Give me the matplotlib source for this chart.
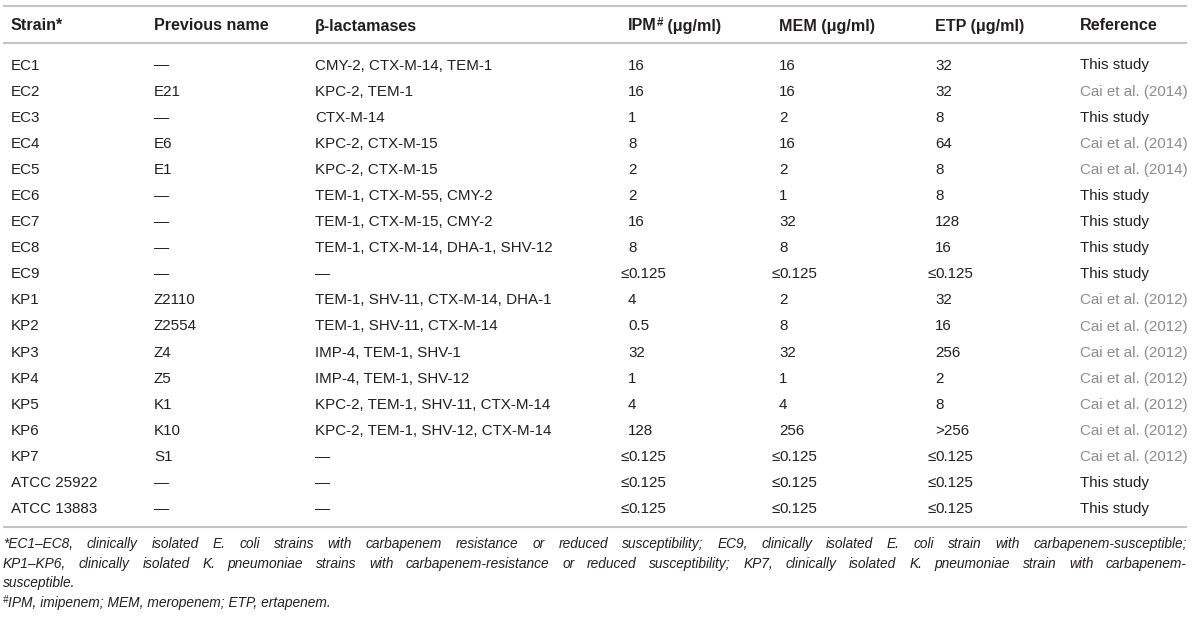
import matplotlib
matplotlib.use("Agg")
import matplotlib.pyplot as plt

plt.rcParams['font.family'] = ['Liberation Sans', 'DejaVu Sans']

# table contents
strains = ["EC1", "EC2", "EC3", "EC4", "EC5", "EC6", "EC7", "EC8", "EC9",
           "KP1", "KP2", "KP3", "KP4", "KP5", "KP6", "KP7",
           "ATCC 25922", "ATCC 13883"]
previous_names = ["—", "E21", "—", "E6", "E1", "—", "—", "—", "—",
                  "Z2110", "Z2554", "Z4", "Z5", "K1", "K10", "S1", "—", "—"]
lactamases = ["CMY-2, CTX-M-14, TEM-1", "KPC-2, TEM-1", "CTX-M-14",
              "KPC-2, CTX-M-15", "KPC-2, CTX-M-15", "TEM-1, CTX-M-55, CMY-2",
              "TEM-1, CTX-M-15, CMY-2", "TEM-1, CTX-M-14, DHA-1, SHV-12", "—",
              "TEM-1, SHV-11, CTX-M-14, DHA-1", "TEM-1, SHV-11, CTX-M-14",
              "IMP-4, TEM-1, SHV-1", "IMP-4, TEM-1, SHV-12",
              "KPC-2, TEM-1, SHV-11, CTX-M-14", "KPC-2, TEM-1, SHV-12, CTX-M-14",
              "—", "—", "—"]
ipm = ["16", "16", "1", "8", "2", "2", "16", "8", "≤0.125",
       "4", "0.5", "32", "1", "4", "128", "≤0.125", "≤0.125", "≤0.125"]
mem = ["16", "16", "2", "16", "2", "1", "32", "8", "≤0.125",
       "2", "8", "32", "1", "4", "256", "≤0.125", "≤0.125", "≤0.125"]
etp = ["32", "32", "8", "64", "8", "8", "128", "16", "≤0.125",
       "32", "16", "256", "2", "8", ">256", "≤0.125", "≤0.125", "≤0.125"]
references = ["This study", "Cai et al. (2014)", "This study", "Cai et al. (2014)",
              "Cai et al. (2014)", "This study", "This study", "This study", "This study",
              "Cai et al. (2012)", "Cai et al. (2012)", "Cai et al. (2012)",
              "Cai et al. (2012)", "Cai et al. (2012)", "Cai et al. (2012)",
              "Cai et al. (2012)", "This study", "This study"]

footnote_1 = ("*EC1–EC8, clinically isolated E. coli strains with carbapenem resistance or "
              "reduced susceptibility; EC9, clinically isolated E. coli strain with carbapenem-susceptible;")
footnote_2 = ("KP1–KP6, clinically isolated K. pneumoniae strains with carbapenem-resistance or "
              "reduced susceptibility; KP7, clinically isolated K. pneumoniae strain with carbapenem-")
footnote_3 = "susceptible."
footnote_4 = "IPM, imipenem; MEM, meropenem; ETP, ertapenem."

TEXT = "#231f20"
LINK = "#8c8c8c"
RULE = "#c4c4c4"
FS = 10.9
FS_HEAD = 11.6
FS_NOTE = 9.9
BASE = 5.5  # baseline sits this many pixels below the row centre

fig = plt.figure(figsize=(12, 6.19), dpi=100)
ax = fig.add_axes([0, 0, 1, 1])
ax.set_xlim(0, 1200)
ax.set_ylim(619, 0)
ax.axis("off")
renderer = fig.canvas.get_renderer()


def width_of(t):
    return t.get_window_extent(renderer).width


def runs(x, y, parts):
    # draw pieces of text one after another: (text, size, weight, style, dy)
    for s, size, weight, style, dy in parts:
        t = ax.text(x, y + dy, s, fontsize=size, fontweight=weight, fontstyle=style,
                    color=TEXT, va="baseline", ha="left")
        x += width_of(t)


def justified(x0, x1, y, line):
    words = line.split(" ")
    items = [ax.text(0, y, w, fontsize=FS_NOTE, fontstyle="italic", color=TEXT,
                     va="baseline", ha="left") for w in words]
    widths = [width_of(t) for t in items]
    gap = (x1 - x0 - sum(widths)) / (len(words) - 1)
    x = x0
    for t, w in zip(items, widths):
        t.set_x(x)
        x += w + gap


def cell(x, y, s, color=TEXT):
    # the "≤" sign hangs left of the column, as in the journal layout
    if s.startswith("≤"):
        ax.text(x + 0.5, y, "≤", fontsize=FS, color=color, va="baseline", ha="right")
        s = s[1:]
    ax.text(x, y, s, fontsize=FS, color=color, va="baseline", ha="left")


# rules
for yy in (6, 43, 527):
    ax.plot([3, 1187], [yy, yy], color=RULE, lw=1.5, solid_capstyle="butt")

col_x = [11, 154, 315, 628, 779, 935, 1080]

# header
hy = 25 + BASE
head = dict(fontsize=FS_HEAD, fontweight="bold", color=TEXT, va="baseline")
ax.text(col_x[0], hy, "Strain*", **head)
ax.text(col_x[1], hy, "Previous name", **head)
ax.text(col_x[2], hy, "β-lactamases", **head)
runs(col_x[3], hy, [("IPM", FS_HEAD, "bold", "normal", 0),
                    ("#", FS_HEAD * 0.72, "bold", "normal", -5),
                    (" (μg/ml)", FS_HEAD, "bold", "normal", 0)])
ax.text(col_x[4], hy, "MEM (μg/ml)", **head)
ax.text(col_x[5], hy, "ETP (μg/ml)", **head)
ax.text(col_x[6], hy, "Reference", **head)

# body rows
y0, dy = 64, 26.1
for i in range(len(strains)):
    y = y0 + i * dy + BASE
    cells = [strains[i], previous_names[i], lactamases[i], ipm[i], mem[i], etp[i]]
    for x, s in zip(col_x, cells):
        cell(x, y, s)
    ref_color = LINK if references[i].startswith("Cai") else TEXT
    cell(col_x[6], y, references[i], ref_color)

# footnotes
nb = 5
justified(3, 1187, 543 + nb, footnote_1)
justified(3, 1187, 563 + nb, footnote_2)
ax.text(3, 582 + nb, footnote_3, fontsize=FS_NOTE, fontstyle="italic", color=TEXT, va="baseline")
runs(3, 602 + nb, [("#", FS_NOTE * 0.72, "normal", "italic", -4),
                   (footnote_4, FS_NOTE, "normal", "italic", 0)])

fig.savefig("out.png", dpi=100)
